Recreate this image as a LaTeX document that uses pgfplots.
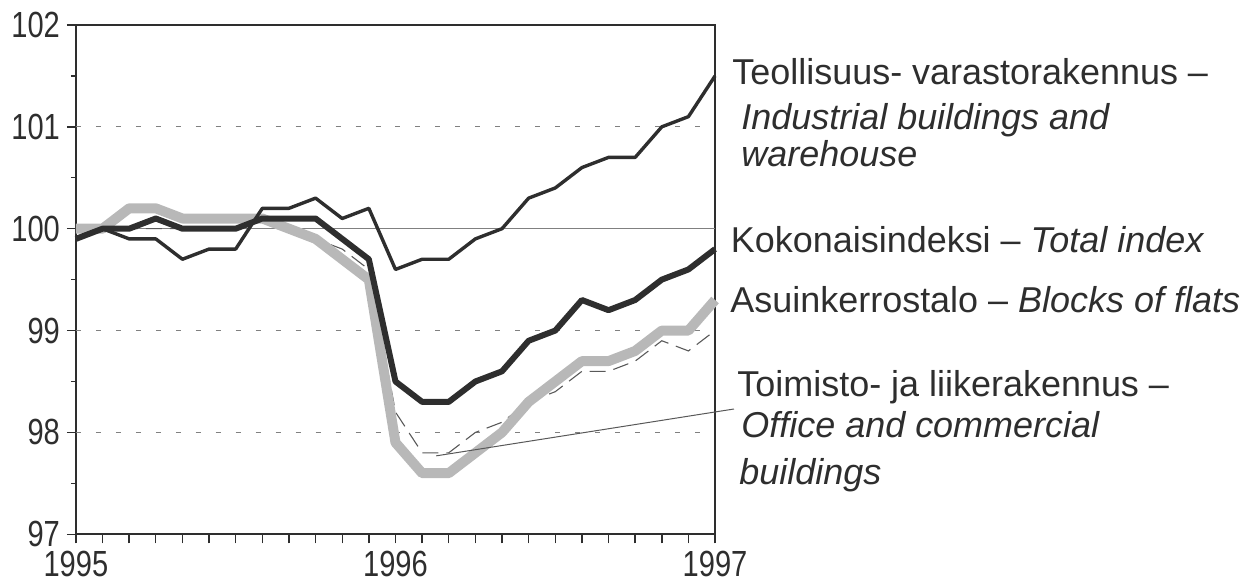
\documentclass[border=0pt]{standalone}
\usepackage{fontspec}
\setmainfont{Liberation Sans}
\newfontfamily\ticksfont[FakeStretch=0.8]{Liberation Sans}
\usepackage{pgfplots}
\pgfplotsset{compat=1.18}
\definecolor{dark}{HTML}{2E2E2E}
\definecolor{band}{HTML}{B8B8B8}
\definecolor{gridc}{HTML}{808080}
\pgfplotstableread{
m ind tot flat off
0 99.9 99.9 100.0 99.9
1 100.0 100.0 100.0 100.0
2 99.9 100.0 100.2 100.0
3 99.9 100.1 100.2 100.0
4 99.7 100.0 100.1 100.0
5 99.8 100.0 100.1 100.0
6 99.8 100.0 100.1 100.0
7 100.2 100.1 100.1 100.1
8 100.2 100.1 100.0 100.0
9 100.3 100.1 99.9 99.9
10 100.1 99.9 99.7 99.8
11 100.2 99.7 99.5 99.6
12 99.6 98.5 97.9 98.2
13 99.7 98.3 97.6 97.8
14 99.7 98.3 97.6 97.8
15 99.9 98.5 97.8 98.0
16 100.0 98.6 98.0 98.1
17 100.3 98.9 98.3 98.3
18 100.4 99.0 98.5 98.4
19 100.6 99.3 98.7 98.6
20 100.7 99.2 98.7 98.6
21 100.7 99.3 98.8 98.7
22 101.0 99.5 99.0 98.9
23 101.1 99.6 99.0 98.8
24 101.5 99.8 99.3 99.0
}\data
\begin{document}
\begin{tikzpicture}[x=1pt,y=1pt]
\path (-38pt,-26pt) rectangle (582pt,267.5pt);
\begin{axis}[
  at={(0,0)}, anchor=south west,
  scale only axis, width=320pt, height=255pt,
  xmin=0, xmax=24, ymin=97, ymax=102,
  xtick={0,...,24},
  xticklabels={1995,,,,,,,,,,,,1996,,,,,,,,,,,,1997},
  ytick={97,...,102},
  minor ytick={97.5,98.5,99.5,100.5,101.5},
  tick align=outside, tick pos=left,
  major tick length=4.5pt, minor tick length=2.5pt,
  tick style={dark, line width=0.7pt},
  axis line style={dark, line width=0.8pt},
  /pgf/number format/assume math mode=true,
  /pgf/number format/1000 sep={},
  ticklabel style={font=\ticksfont\fontsize{18.2}{19}\selectfont, text=dark},
  xticklabel style={yshift=-0.5pt},
  clip=false,
]
\draw[gridc, line width=0.45pt, dash pattern=on 2.5pt off 7.5pt] (axis cs:0,101) -- (axis cs:24,101);
\draw[gridc, line width=0.45pt, dash pattern=on 2.5pt off 7.5pt] (axis cs:0,99) -- (axis cs:24,99);
\draw[gridc, line width=0.45pt, dash pattern=on 2.5pt off 7.5pt] (axis cs:0,98) -- (axis cs:24,98);
\draw[gridc, line width=0.5pt] (axis cs:0,100) -- (axis cs:24,100);
\addplot[gray!70!black, line width=0.55pt, dash pattern=on 8pt off 4pt] table[x=m,y=off] {\data};
\addplot[band, line width=5pt, line join=round] table[x=m,y=flat] {\data};
\addplot[dark, line width=1.7pt, line join=round] table[x=m,y=ind] {\data};
\addplot[dark, line width=3pt, line join=round] table[x=m,y=tot] {\data};
\draw[dark!80, line width=0.5pt] (axis cs:13.53,97.77) -- (axis cs:24.71,98.23);
\end{axis}
\begin{scope}[every node/.style={anchor=base west, inner sep=0pt, text=dark, font=\fontsize{18}{20}\selectfont}]
\node at (328.5,225) {Teollisuus- varastorakennus –};
\node at (333,202.5) {\itshape Industrial buildings and};
\node at (333,184) {\itshape warehouse};
\node at (327.75,141.15) {Kokonaisindeksi – \itshape Total index};
\node at (327.5,111.15) {Asuinkerrostalo – \itshape Blocks of flats};
\node at (331,69.15) {Toimisto- ja liikerakennus –};
\node at (333,48.5) {\itshape Office and commercial};
\node at (332,25) {\itshape buildings};
\end{scope}
\end{tikzpicture}
\end{document}
